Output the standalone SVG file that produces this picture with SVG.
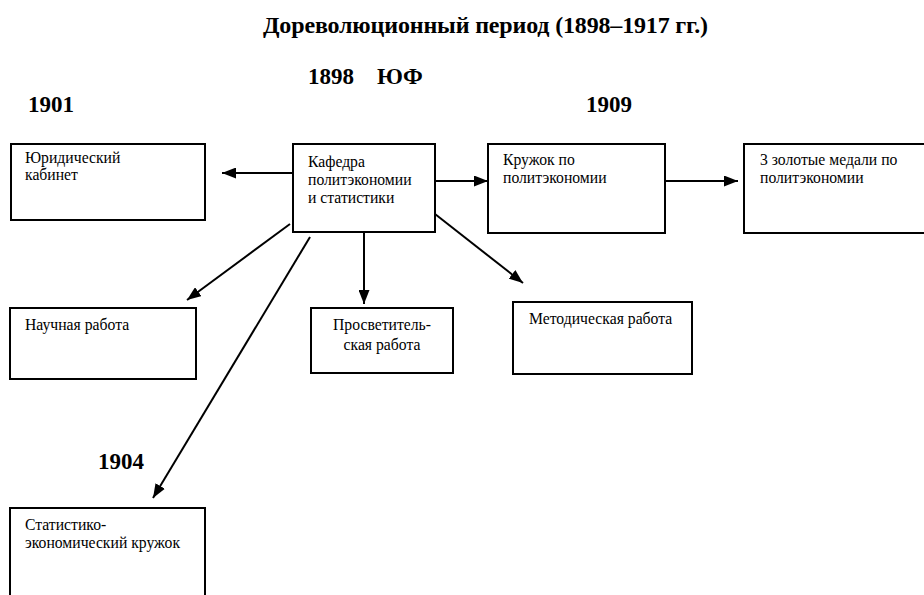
<svg xmlns="http://www.w3.org/2000/svg" width="924" height="595" viewBox="0 0 924 595">
<defs>
<style>
.box{fill:#fff;stroke:#000;stroke-width:2}
.t{font-family:'Liberation Serif','DejaVu Serif',serif;font-size:15.7px;fill:#000}
.h{font-family:'Liberation Serif','DejaVu Serif',serif;font-size:23px;font-weight:bold;fill:#000}
.c{stroke:#000;stroke-width:2;fill:none;marker-end:url(#ah)}
</style>
<marker id="ah" viewBox="0 0 14 11" refX="14" refY="5.5" markerWidth="14" markerHeight="11" markerUnits="userSpaceOnUse" orient="auto">
<path d="M0,0 L14,5.5 L0,11 z" fill="#000"/>
</marker>
</defs>
<rect width="924" height="595" fill="#fff"/>
<text class="h" x="263" y="33" style="font-size:24px" textLength="445">Дореволюционный период (1898–1917 гг.)</text>
<text class="h" x="308" y="84" xml:space="preserve">1898    ЮФ</text>
<text class="h" x="28" y="112">1901</text>
<text class="h" x="586" y="112">1909</text>
<text class="h" x="98" y="469">1904</text>
<g id="connectors">
<line class="c" x1="293" y1="173" x2="222" y2="173"/>
<line class="c" x1="435" y1="181" x2="488" y2="181"/>
<line class="c" x1="665" y1="181" x2="738" y2="181"/>
<line class="c" x1="290" y1="224" x2="187" y2="300"/>
<line class="c" x1="364" y1="232" x2="364" y2="304"/>
<line class="c" x1="435" y1="214" x2="523" y2="283"/>
<line class="c" x1="310" y1="237" x2="153" y2="498"/>
</g>
<g id="yur"><rect class="box" x="11" y="144" width="194" height="76"/><text class="t" x="25" y="163">Юридический</text><text class="t" x="25" y="180">кабинет</text></g>
<g id="kafedra"><rect class="box" x="293" y="144" width="142" height="88"/><text class="t" x="308" y="167">Кафедра</text><text class="t" x="308" y="185">политэкономии</text><text class="t" x="308" y="203">и статистики</text></g>
<g id="kruzhok"><rect class="box" x="488" y="144" width="177" height="89"/><text class="t" x="503" y="165">Кружок по</text><text class="t" x="503" y="183">политэкономии</text></g>
<g id="medali"><rect class="box" x="744" y="144" width="182" height="89"/><text class="t" x="760" y="165">3 золотые медали по</text><text class="t" x="760" y="183">политэкономии</text></g>
<g id="nauchnaya"><rect class="box" x="10" y="308" width="186" height="71"/><text class="t" x="25" y="330">Научная работа</text></g>
<g id="prosvet"><rect class="box" x="311" y="308" width="142" height="65"/><text class="t" x="382" y="330" text-anchor="middle">Просветитель-</text><text class="t" x="382" y="350" text-anchor="middle">ская работа</text></g>
<g id="metod"><rect class="box" x="513" y="302" width="179" height="72"/><text class="t" x="529" y="324">Методическая работа</text></g>
<g id="stat"><rect class="box" x="10" y="508" width="195" height="92"/><text class="t" x="25" y="530">Статистико-</text><text class="t" x="25" y="548">экономический кружок</text></g>
</svg>
